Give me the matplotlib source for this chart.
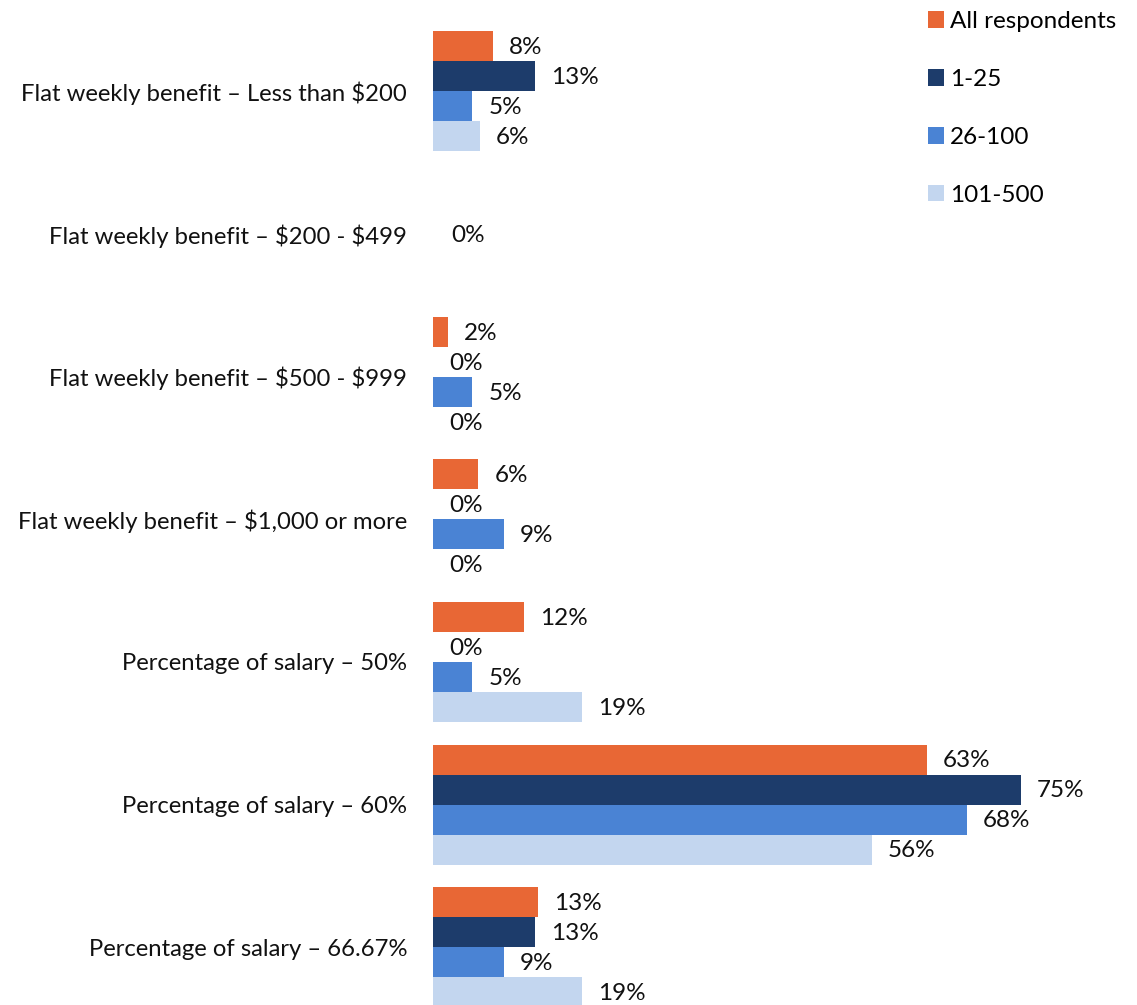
import numpy as np
import matplotlib
matplotlib.use("Agg")
import matplotlib.pyplot as plt
from matplotlib.patches import Patch

categories = [
    "Flat weekly benefit \u2013 Less than \\$200",
    "Flat weekly benefit \u2013 \\$200 - \\$499",
    "Flat weekly benefit \u2013 \\$500 - \\$999",
    "Flat weekly benefit \u2013 \\$1,000 or more",
    "Percentage of salary \u2013 50%",
    "Percentage of salary \u2013 60%",
    "Percentage of salary \u2013 66.67%",
]
series_names = ["All respondents", "1-25", "26-100", "101-500"]
nan = np.nan
all_resp = [7.7, nan, 1.9, 5.8, 11.6, 63.0, 13.4]
size_1_25 = [13.0, nan, 0, 0, 0, 75.0, 13.0]
size_26_100 = [5.0, nan, 5.0, 9.0, 5.0, 68.1, 9.0]
size_101_500 = [6.0, nan, 0, 0, 19.0, 56.0, 19.0]
# group shown with a single centred label only
center_label_values = [nan, 0, nan, nan, nan, nan, nan]

colors = ["#E86735", "#1D3C6B", "#4A83D4", "#C3D6EF"]
series = [all_resp, size_1_25, size_26_100, size_101_500]

plt.rcParams['font.family'] = ['Lato', 'DejaVu Sans']
FS = 17.5

W, H = 1137, 1005
fig = plt.figure(figsize=(W / 100, H / 100), dpi=100)

left_px, top_px = 433, 20.2
ax = fig.add_axes([left_px / W, 0, 1 - left_px / W, (H - top_px) / H])

bw = 30 / 142.6
y = np.arange(len(categories))
for j, (vals, c) in enumerate(zip(series, colors)):
    pos = y + (j - 1.5) * bw
    v = np.array(vals, dtype=float)
    ax.barh(pos, np.nan_to_num(v), height=bw, color=c, label=series_names[j])
    for p, val in zip(pos, v):
        if np.isnan(val):
            continue
        ax.annotate(f"{val:.0f}%", (val, p), xytext=(11.5, -1), textcoords="offset points",
                    va="center", ha="left", fontsize=FS, color="#111111")
for i, val in enumerate(center_label_values):
    if not np.isnan(val):
        ax.annotate(f"{val:.0f}%", (val, i), xytext=(13.5, -1), textcoords="offset points",
                    va="center", ha="left", fontsize=FS, color="#111111")

ax.set_xlim(0, (W - left_px) / 7.84)
ax.set_ylim(-0.5 + (H - top_px) / 142.6, -0.5)
ax.set_yticks(y)
ax.set_yticklabels(categories, fontsize=17.2, color="#111111")
ax.tick_params(axis="y", length=0, pad=18.7)
ax.set_xticks([])
for s in ax.spines.values():
    s.set_visible(False)

handles = [Patch(facecolor=c, edgecolor="none") for c in colors]
fig.legend(handles, series_names, loc="upper left", bbox_to_anchor=(928 / W, 1 - 11 / H),
           frameon=False, fontsize=FS, handlelength=0.66, handleheight=0.66,
           handletextpad=0.25, labelspacing=1.52, borderaxespad=0, borderpad=0)

fig.savefig("out.png", dpi=100)
